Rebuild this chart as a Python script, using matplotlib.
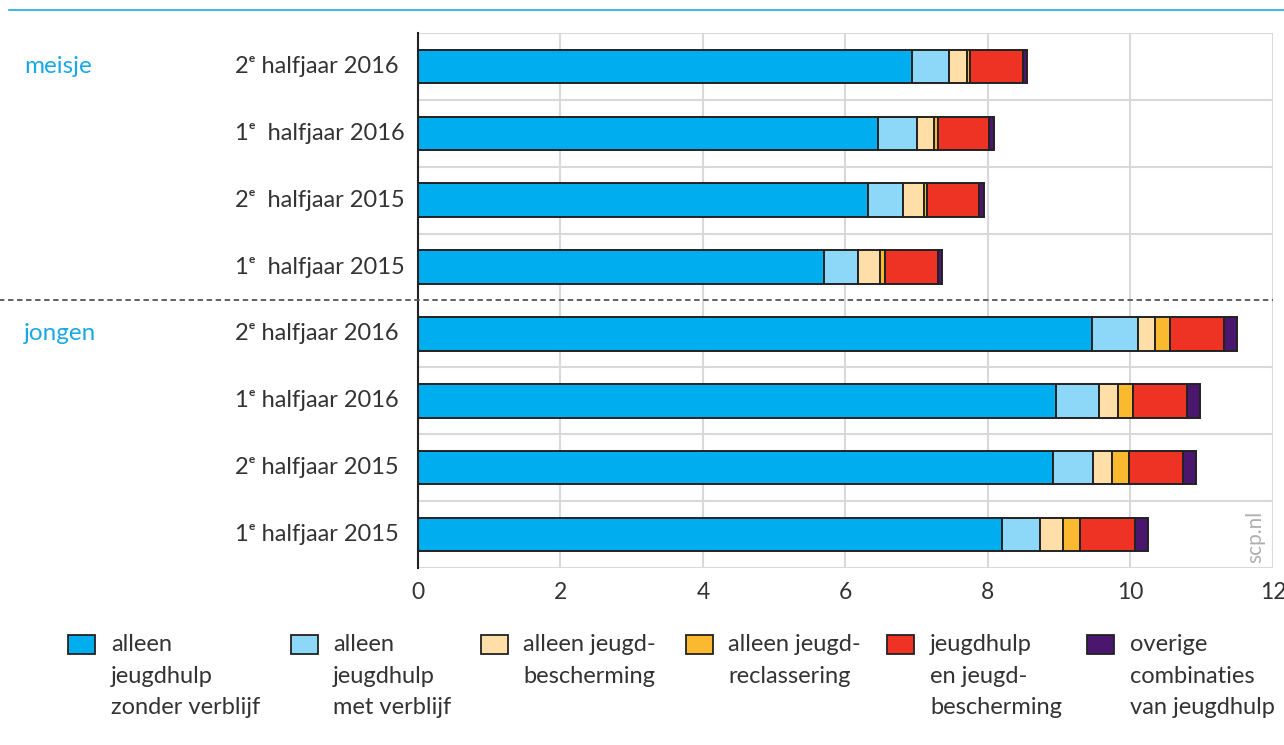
import numpy as np
import matplotlib.pyplot as plt
from matplotlib.patches import Rectangle

plt.rcParams['font.family'] = ['Lato', 'DejaVu Sans']

groups = ['meisje', 'jongen']
periods_meisje = ['2ᵉ halfjaar 2016', '1ᵉ  halfjaar 2016', '2ᵉ  halfjaar 2015', '1ᵉ  halfjaar 2015']
periods_jongen = ['2ᵉ halfjaar 2016', '1ᵉ halfjaar 2016', '2ᵉ halfjaar 2015', '1ᵉ halfjaar 2015']

series = ['alleen\njeugdhulp\nzonder verblijf',
          'alleen\njeugdhulp\nmet verblijf',
          'alleen jeugd-\nbescherming',
          'alleen jeugd-\nreclassering',
          'jeugdhulp\nen jeugd-\nbescherming',
          'overige\ncombinaties\nvan jeugdhulp']
colors = ['#00AEEF', '#8DD8F8', '#FFDEA8', '#FBB92F', '#EE3224', '#4B166E']

# rows top to bottom: meisje (4), jongen (4)
zonder_verblijf = [6.93, 6.46, 6.31, 5.70, 9.46, 8.95, 8.91, 8.20]
met_verblijf    = [0.53, 0.54, 0.50, 0.47, 0.65, 0.61, 0.56, 0.53]
jeugdbescherm   = [0.24, 0.24, 0.29, 0.32, 0.23, 0.26, 0.27, 0.33]
reclassering    = [0.05, 0.06, 0.04, 0.07, 0.21, 0.22, 0.24, 0.23]
jh_en_jb        = [0.74, 0.72, 0.73, 0.74, 0.76, 0.75, 0.76, 0.78]
overige         = [0.06, 0.06, 0.07, 0.06, 0.19, 0.19, 0.18, 0.17]

data = [zonder_verblijf, met_verblijf, jeugdbescherm, reclassering, jh_en_jb, overige]
labels = periods_meisje + periods_jongen

fig = plt.figure(figsize=(12.84, 7.45), dpi=100)
ax = fig.add_axes([0.3255, 0.2376, 0.6659, 0.7181])

y = np.arange(len(labels))
left = np.zeros(len(labels))
for vals, c, name in zip(data, colors, series):
    ax.barh(y, vals, left=left, height=0.5, color=c, edgecolor='#222222',
            linewidth=1.4, label=name, zorder=3)
    left += np.array(vals)

ax.set_xlim(0, 12)
ax.set_ylim(7.5, -0.5)
ax.set_xticks(range(0, 13, 2))
ax.tick_params(axis='x', length=0, labelsize=16.5, pad=10, colors='#333333')
ax.set_yticks([])
for s in ['top', 'right', 'bottom']:
    ax.spines[s].set_visible(False)
ax.spines['left'].set_color('#222222')
ax.spines['left'].set_linewidth(1.5)
ax.spines['left'].set_zorder(4)

for xv in range(0, 13, 2):
    ax.axvline(xv, color='#d9d9d9', lw=1.5, zorder=1)
for yv in np.arange(-0.5, 8, 1):
    if yv != 3.5:
        ax.axhline(yv, color='#d9d9d9', lw=1.5, zorder=1)

# dashed group separator
ax.plot([-0.614, 1], [3.5, 3.5], transform=ax.get_yaxis_transform(),
        color='#555555', lw=1.3, ls=(0, (3, 2)), clip_on=False, zorder=5)

ytr = ax.get_yaxis_transform()
for yi, lab in zip(y, labels):
    ax.text(-0.214, yi, lab, transform=ytr, ha='left', va='center',
            fontsize=17, color='#333333')
ax.text(-0.461, 0, 'meisje', transform=ytr, ha='left', va='center',
        fontsize=17.5, color='#1BA9E6')
ax.text(-0.461, 4, 'jongen', transform=ytr, ha='left', va='center',
        fontsize=17.5, color='#1BA9E6')

ax.text(0.979, 7.03, 'scp.nl', transform=ytr, rotation=90, ha='center',
        va='center', fontsize=15, color='#b0b0b0')

# top blue rule
fig.add_artist(plt.Line2D([9 / 1284, 1], [1 - 10 / 745, 1 - 10 / 745],
                          color='#1BA9E6', lw=1.2))

# legend
sq_x = [68, 291, 481, 686, 887, 1087]
txt_x = [111, 333, 523, 728, 930, 1130]
for sx, tx, c, name in zip(sq_x, txt_x, colors, series):
    fig.add_artist(Rectangle((sx / 1284, 1 - 654 / 745), 27 / 1284, 19 / 745,
                             facecolor=c, edgecolor='#222222', lw=1.3,
                             transform=fig.transFigure))
    fig.text(tx / 1284, 1 - 634 / 745, name, ha='left', va='top',
             fontsize=17, color='#333333', linespacing=1.63)

fig.savefig('out.png', dpi=100)
